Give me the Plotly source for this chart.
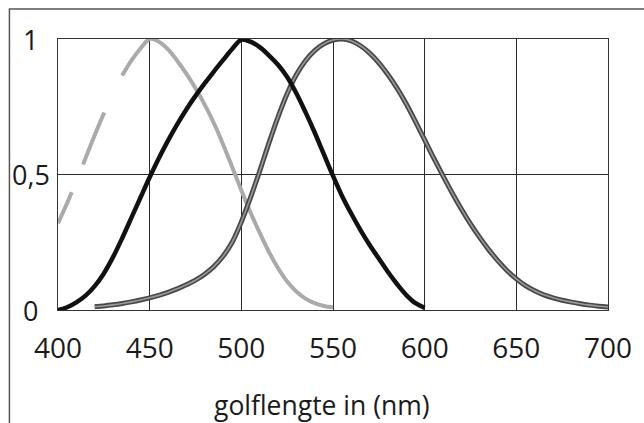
import plotly.graph_objects as go

# Wavelength grid (nm) and relative sensitivity of the three cone types
wl_s = [400, 405, 410, 415, 420, 425, 430, 435, 440, 445, 450, 455, 460, 465, 470,
        475, 480, 485, 490, 495, 500, 505, 510, 515, 520, 525, 530, 535, 540, 545, 550]
s_cone = [0.32, 0.395, 0.475, 0.56, 0.645, 0.725, 0.80, 0.865, 0.92, 0.965, 1.0, 0.99,
          0.962, 0.92, 0.872, 0.818, 0.758, 0.69, 0.612, 0.528, 0.442, 0.36, 0.285,
          0.215, 0.155, 0.105, 0.068, 0.042, 0.025, 0.015, 0.01]
s_dash_end = 435  # the S-curve is drawn dashed below this wavelength

wl_m = [400, 405, 410, 415, 420, 425, 430, 435, 440, 445, 450, 455, 460, 465, 470,
        475, 480, 485, 490, 495, 500, 505, 510, 515, 520, 525, 530, 535, 540, 545, 550,
        555, 560, 565, 570, 575, 580, 585, 590, 595, 600]
m_cone = [0.0, 0.01, 0.028, 0.053, 0.088, 0.135, 0.195, 0.265, 0.34, 0.415, 0.49,
          0.56, 0.625, 0.685, 0.74, 0.79, 0.836, 0.88, 0.922, 0.963, 0.997, 0.99,
          0.97, 0.94, 0.905, 0.86, 0.80, 0.73, 0.655, 0.575, 0.495, 0.42, 0.355,
          0.295, 0.24, 0.19, 0.14, 0.095, 0.055, 0.025, 0.008]

wl_l = [420, 425, 430, 435, 440, 445, 450, 455, 460, 465, 470, 475, 480, 485, 490,
        495, 500, 505, 510, 515, 520, 525, 530, 535, 540, 545, 550, 555, 560, 565, 570,
        575, 580, 585, 590, 595, 600, 605, 610, 615, 620, 625, 630, 635, 640, 645, 650,
        655, 660, 665, 670, 675, 680, 685, 690, 695, 700]
l_cone = [0.012, 0.015, 0.019, 0.024, 0.03, 0.037, 0.045, 0.054, 0.065, 0.078, 0.093,
          0.11, 0.132, 0.16, 0.198, 0.25, 0.325, 0.415, 0.512, 0.615, 0.712, 0.798,
          0.868, 0.92, 0.957, 0.982, 0.996, 1.0, 0.993, 0.975, 0.948, 0.912, 0.868,
          0.818, 0.76, 0.695, 0.628, 0.56, 0.495, 0.432, 0.373, 0.318, 0.268, 0.222,
          0.181, 0.145, 0.115, 0.09, 0.071, 0.056, 0.045, 0.036, 0.029, 0.023, 0.018,
          0.014, 0.011]

x_ticks = [400, 450, 500, 550, 600, 650, 700]
y_ticks = [0, 0.5, 1]
y_tick_text = ["0", "0,5", "1"]
x_title = "golflengte in (nm)"

FONT = "Open Sans"
LIGHT = "#aaaaaa"
DARK_EDGE = "#474747"
DARK_CORE = "#9a9a9a"

fig = go.Figure()

# S-cone: dashed tail on the short-wavelength side, solid elsewhere
s_dash_x = [w for w in wl_s if w <= s_dash_end]
s_dash_y = s_cone[:len(s_dash_x)]
s_solid_x = [w for w in wl_s if w >= s_dash_end]
s_solid_y = s_cone[len(s_dash_x) - 1:]

line_shape = dict(shape="spline", smoothing=1.0)

fig.add_trace(go.Scatter(x=s_dash_x, y=s_dash_y, mode="lines", hoverinfo="skip",
                         line=dict(color=LIGHT, width=4, dash="34px,30px,56px,80px",
                                   **line_shape)))
fig.add_trace(go.Scatter(x=s_solid_x, y=s_solid_y, mode="lines", hoverinfo="skip",
                         line=dict(color=LIGHT, width=4, **line_shape)))

# L-cone: double-stroked line (dark rim, lighter core)
fig.add_trace(go.Scatter(x=wl_l, y=l_cone, mode="lines", hoverinfo="skip",
                         line=dict(color=DARK_EDGE, width=5, **line_shape)))
fig.add_trace(go.Scatter(x=wl_l, y=l_cone, mode="lines", hoverinfo="skip",
                         line=dict(color=DARK_CORE, width=1.6, **line_shape)))

# M-cone: heavy black line
fig.add_trace(go.Scatter(x=wl_m, y=m_cone, mode="lines", hoverinfo="skip",
                         line=dict(color="#111111", width=4.5, **line_shape)))

axis_common = dict(showline=True, linecolor="#333333", linewidth=1.3, mirror=True,
                   showgrid=True, gridcolor="#2a2a2a", gridwidth=1, zeroline=False)

fig.update_xaxes(range=[400, 700], tickvals=x_ticks, ticks="",
                 tickfont=dict(family=FONT, size=28, color="#1a1a1a"),
                 ticklabelstandoff=13, **axis_common)
fig.update_yaxes(range=[0, 1], tickvals=y_ticks, showticklabels=False, ticks="",
                 **axis_common)

# y tick labels, centred in the left margin
for v, t in zip(y_ticks, y_tick_text):
    fig.add_annotation(x=-0.05, xref="paper", y=v, yref="y", text=t, showarrow=False,
                       xanchor="center", yanchor="middle",
                       font=dict(family=FONT, size=27, color="#1a1a1a"))

fig.add_annotation(x=0.48, xref="paper", y=-0.35, yref="paper", text=x_title,
                   showarrow=False, xanchor="center", yanchor="middle",
                   font=dict(family=FONT, size=26.5, color="#1a1a1a"))

# outer frame around the whole figure
fig.add_shape(type="rect", xref="paper", yref="paper",
              x0=-0.0883, x1=1.2, y0=-0.6, y1=1.1107,
              line=dict(color="#555555", width=1.5), layer="below")

fig.update_layout(width=644, height=423, margin=dict(l=58, r=31, t=39, b=113),
                  paper_bgcolor="white", plot_bgcolor="white", showlegend=False)

fig.write_html("out.html")
